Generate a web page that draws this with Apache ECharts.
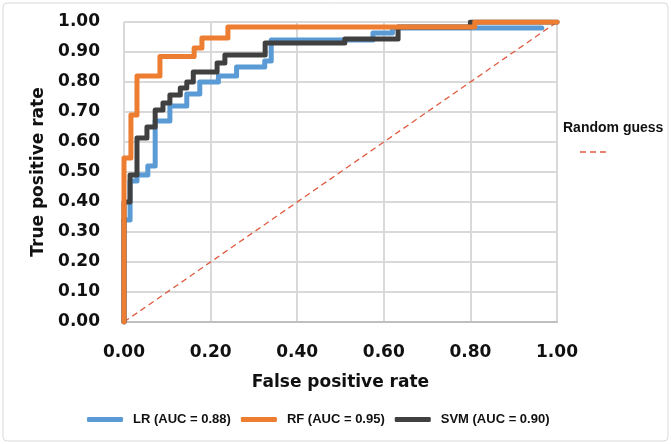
<!DOCTYPE html>
<html>
<head>
<meta charset="utf-8">
<script src="https://cdn.jsdelivr.net/npm/echarts@6/dist/echarts.min.js"></script>
<style>
  html, body { margin: 0; padding: 0; background: #fff; }
  #roc { width: 671px; height: 444px; }
</style>
</head>
<body>
<div id="roc"></div>
<script>
// ROC curve corner points (false positive rate / true positive rate)
const lrFpr = [0, 0, 0.014, 0.014, 0.03, 0.03, 0.055, 0.055, 0.072, 0.072, 0.106, 0.106, 0.145, 0.145, 0.175, 0.175, 0.218, 0.218, 0.26, 0.26, 0.325, 0.325, 0.34, 0.34, 0.575, 0.575, 0.62, 0.62, 0.965];
const lrTpr = [0, 0.34, 0.34, 0.47, 0.47, 0.49, 0.49, 0.52, 0.52, 0.67, 0.67, 0.72, 0.72, 0.76, 0.76, 0.80, 0.80, 0.82, 0.82, 0.85, 0.85, 0.87, 0.87, 0.94, 0.94, 0.963, 0.963, 0.98, 0.98];

const rfFpr = [0, 0, 0.016, 0.016, 0.03, 0.03, 0.083, 0.083, 0.162, 0.162, 0.18, 0.18, 0.24, 0.24, 0.81, 0.81, 1];
const rfTpr = [0, 0.547, 0.547, 0.69, 0.69, 0.82, 0.82, 0.885, 0.885, 0.913, 0.913, 0.947, 0.947, 0.983, 0.983, 1, 1];

const svmFpr = [0, 0, 0.014, 0.014, 0.03, 0.03, 0.053, 0.053, 0.072, 0.072, 0.09, 0.09, 0.106, 0.106, 0.13, 0.13, 0.145, 0.145, 0.16, 0.16, 0.215, 0.215, 0.233, 0.233, 0.326, 0.326, 0.51, 0.51, 0.633, 0.633, 0.8, 0.8, 1];
const svmTpr = [0, 0.40, 0.40, 0.49, 0.49, 0.613, 0.613, 0.65, 0.65, 0.707, 0.707, 0.73, 0.73, 0.757, 0.757, 0.78, 0.78, 0.80, 0.80, 0.833, 0.833, 0.863, 0.863, 0.89, 0.89, 0.93, 0.93, 0.943, 0.943, 0.983, 0.983, 1, 1];

const guessFpr = [0, 1];
const guessTpr = [0, 1];

const seriesNames = ["LR (AUC = 0.88)", "RF (AUC = 0.95)", "SVM (AUC = 0.90)"];
const colors = ["#5b9bd5", "#ed7d31", "#404040"];

function pairs(xs, ys) {
  return xs.map((x, i) => [x, ys[i]]);
}

const chart = echarts.init(document.getElementById("roc"));
const axisFont = { fontFamily: "DejaVu Sans", fontWeight: "bold", fontSize: 17, color: "#111" };

function rocLine(name, data, color, z) {
  return {
    type: "line",
    name: name,
    data: data,
    showSymbol: false,
    symbol: "none",
    z: z,
    color: color,
    lineStyle: { width: 5, color: color, cap: "round", join: "round" }
  };
}

const option = {
  animation: false,
  grid: { left: 124, right: 114, top: 22, bottom: 122 },
  xAxis: {
    type: "value",
    min: 0,
    max: 1,
    interval: 0.2,
    name: "False positive rate",
    nameLocation: "middle",
    nameGap: 52,
    nameTextStyle: axisFont,
    axisLine: { show: true, lineStyle: { color: "#bfbfbf", width: 2 } },
    axisTick: { show: false },
    axisLabel: Object.assign({ margin: 22, formatter: v => v.toFixed(2) }, axisFont),
    splitLine: { show: true, lineStyle: { color: "#d9d9d9", width: 2 } }
  },
  yAxis: {
    type: "value",
    min: 0,
    max: 1,
    interval: 0.1,
    name: "True positive rate",
    nameLocation: "middle",
    nameGap: 76,
    nameTextStyle: axisFont,
    axisLine: { show: false },
    axisTick: { show: false },
    axisLabel: Object.assign({ margin: 24, formatter: v => v.toFixed(2) }, axisFont),
    splitLine: { show: true, lineStyle: { color: "#d9d9d9", width: 2 } }
  },
  legend: {
    data: seriesNames,
    left: 82,
    top: 408,
    itemWidth: 36,
    itemHeight: 5,
    itemGap: 10,
    icon: "roundRect",
    textStyle: { fontFamily: "Liberation Sans", fontWeight: "bold", fontSize: 13, color: "#111", padding: [0, 0, 0, 5] }
  },
  graphic: [
    {
      type: "rect",
      shape: { x: 3, y: 3, width: 665, height: 438, r: 4 },
      style: { fill: "none", stroke: "#d9d9d9", lineWidth: 1 },
      silent: true
    },
    {
      type: "text",
      left: 563,
      top: 121,
      style: { text: "Random guess", font: "bold 14px 'Liberation Sans'", fill: "#111" }
    },
    {
      type: "line",
      shape: { x1: 580, y1: 152, x2: 608, y2: 152 },
      style: { stroke: "#e05a40", lineWidth: 1.3, lineDash: [6, 4] }
    }
  ],
  series: [
    {
      type: "line",
      name: "Random guess",
      data: pairs(guessFpr, guessTpr),
      symbol: "none",
      z: 1,
      lineStyle: { width: 1.3, color: "#e05a40", type: [6, 4] }
    },
    rocLine(seriesNames[0], pairs(lrFpr, lrTpr), colors[0], 2),
    rocLine(seriesNames[2], pairs(svmFpr, svmTpr), colors[2], 3),
    rocLine(seriesNames[1], pairs(rfFpr, rfTpr), colors[1], 4)
  ]
};

chart.setOption(option);
</script>
</body>
</html>
